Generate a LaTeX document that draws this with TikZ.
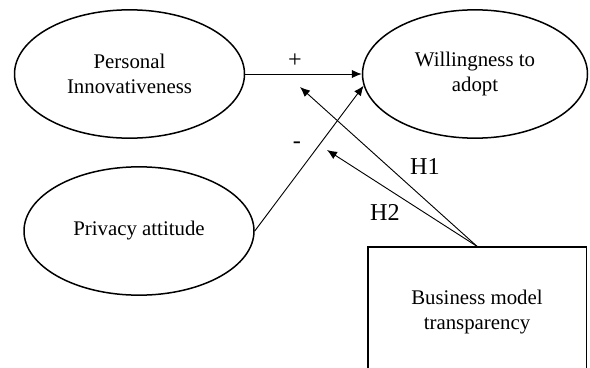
\documentclass[tikz,border=0pt]{standalone}
\usepackage{fontspec}
\setmainfont{Liberation Serif}
\usetikzlibrary{shapes.geometric,
                arrows.meta,
                positioning}
\tikzset{construct/.style=
   {ellipse,
    draw,
    line width=0.9pt,
    align=center,
    inner sep=0pt,
    minimum width=138pt,
    minimum height=77pt,
    font=\fontsize{12.5}{15}\selectfont}}
\tikzset{moderator/.style=
   {rectangle,
    draw,
    line width=0.8pt,
    align=center,
    minimum width=131pt,
    minimum height=78pt,
    font=\fontsize{12.5}{15}\selectfont}}
\tikzset{arrow/.style = {draw, line width=0.55pt, -{Latex[length=6pt,width=5pt]}}}
\tikzset{sign/.style = {inner sep=0pt, font=\fontsize{14.5}{16}\selectfont}}

\begin{document}
\begin{tikzpicture}[x=0.6pt, y=-0.6pt]
    \useasboundingbox (0,0) rectangle (590,367);
    \clip (0,0) rectangle (590,367);

    % Place nodes
    \node [construct] (innov) at (129.5,74) {Personal\\Innovativeness};
    \node [construct, minimum width=135pt] (adopt) at (475,74) {Willingness to\\adopt};
    \node [construct] (privacy) at (139,231) {Privacy attitude};
    \node [moderator] (transp) at (477,312) {Business model\\transparency};
    \coordinate (hOne) at (300,87);
    \coordinate (hTwo) at (327,150);

    % Draw edges
    \path [arrow] (innov.east) -- (adopt.west);
    \path [arrow] (privacy.east) -- (adopt.186);
    \path [arrow] (transp.north) -- (hOne);
    \path [arrow] (transp.north) -- (hTwo);

    % Labels
    \node [sign] (plus) at (295,61) {+};
    \node [sign] (minus) at (297,145) {-};
    \node [sign] (labOne) at (425,167) {H1};
    \node [sign] (labTwo) at (385,212) {H2};

\end{tikzpicture}
\end{document}
